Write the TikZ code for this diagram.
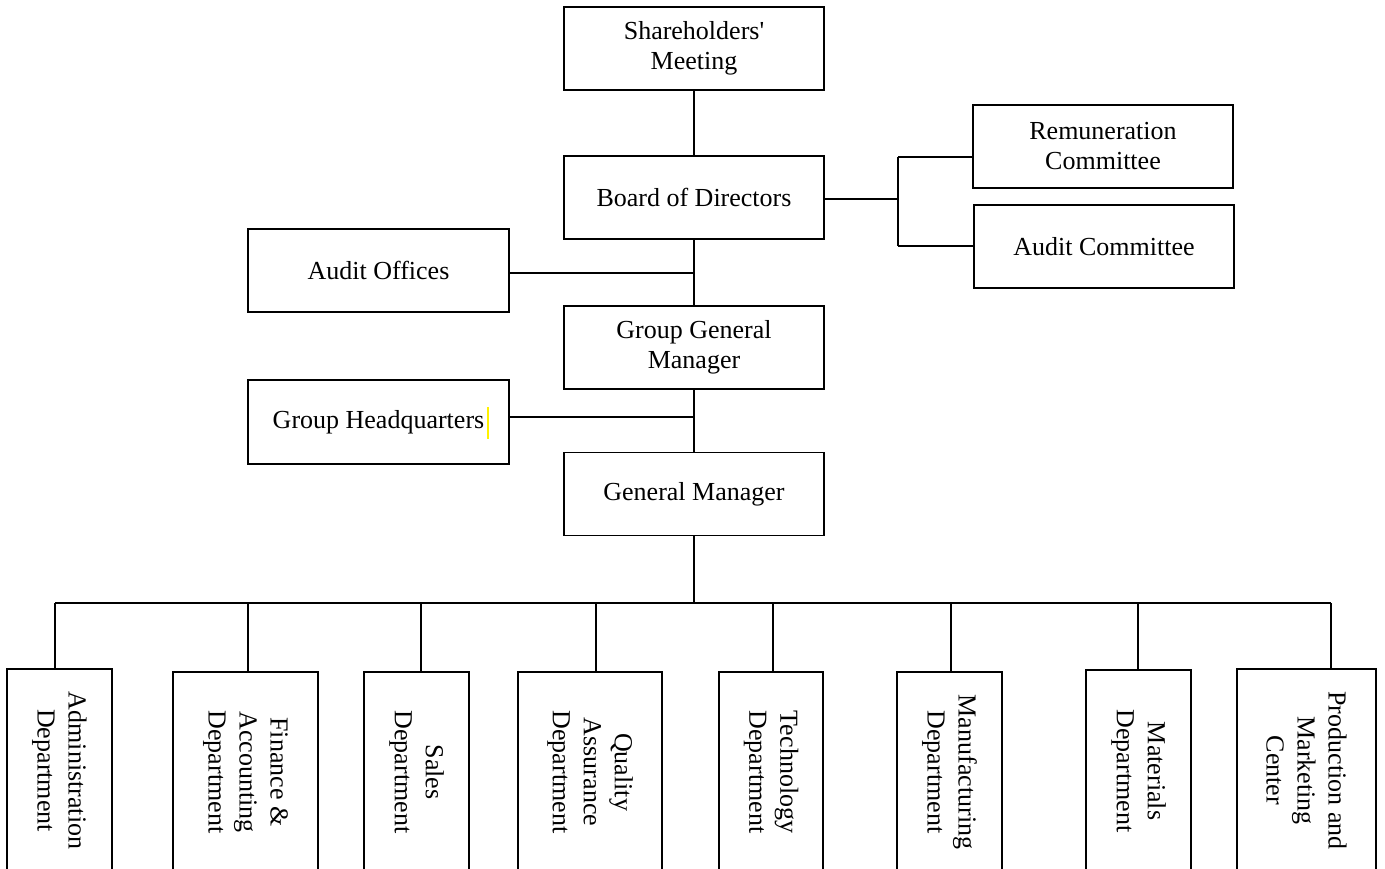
\documentclass[tikz,border=0pt]{standalone}
\usepackage{fontspec}
\setmainfont{Liberation Serif}
\begin{document}
\begin{tikzpicture}[x=1pt,y=-1pt,
  orgbox/.style={draw, line width=1.6pt, inner sep=0pt, align=center,
    font=\fontsize{26}{30}\selectfont, minimum width=260pt, minimum height=83pt},
  deptbox/.style={draw, line width=1.6pt, inner sep=0pt, align=center,
    font=\fontsize{26}{31}\selectfont, rotate=-90},
  link/.style={line width=1.8pt},
  thinlink/.style={line width=1.2pt}]
\useasboundingbox (0,0) rectangle (1385,868);
\clip (0,0) rectangle (1385,868);

% main chain
\node[orgbox] (sh)    at (694,48.5)  {Shareholders\textquotesingle\\Meeting};
\node[orgbox] (board) at (694,197.5) {Board of Directors};
\node[orgbox] (ggm)   at (694,347.5) {Group General\\Manager};
\node[orgbox] (gm)    at (694,494)   {General Manager};

% committees and side offices
\node[orgbox] (remun)  at (1103,146.5) {Remuneration\\Committee};
\node[orgbox] (auditc) at (1104,246.5) {Audit Committee};
\node[orgbox, minimum width=261pt] (auditoff) at (378.5,270.5) {Audit Offices};
\node[orgbox, minimum width=261pt, minimum height=84pt] (ghq) at (378.5,422) {Group Headquarters};
\draw[yellow, line width=1.5pt] (488,407) -- (488,439);

\draw[link] (sh.south) -- (board.north);
\draw[link] (board.south) -- (ggm.north);
\draw[link] (ggm.south) -- (gm.north);

\coordinate (split) at (898,199);
\coordinate (rtop) at (898,157);
\coordinate (rbot) at (898,246);
\draw[thinlink] (board.east |- split) -- (split);
\draw[thinlink] (rtop) -- (rbot);
\draw[thinlink] (rtop) -- (rtop -| remun.west);
\draw[thinlink] (rbot) -- (rbot -| auditc.west);

\coordinate (j1) at (694,273);
\coordinate (j2) at (694,417);
\draw[link] (auditoff.east |- j1) -- (j1);
\draw[link] (ghq.east |- j2) -- (j2);

% departments
\coordinate (bus) at (694,603);
\draw[link] (gm.south) -- (bus);
\draw[link] (55,603) -- (1331,603);

\node[deptbox, minimum width=203pt, minimum height=105pt] (adm)  at (59.5,770.5)  {Administration\\Department};
\node[deptbox, minimum width=200pt, minimum height=145pt] (fin)  at (245.5,772)   {Finance \&\\Accounting\\Department};
\node[deptbox, minimum width=200pt, minimum height=105pt] (sal)  at (416.5,772)   {Sales\\Department};
\node[deptbox, minimum width=200pt, minimum height=144pt] (qa)   at (590,772)     {Quality\\Assurance\\Department};
\node[deptbox, minimum width=200pt, minimum height=104pt] (tec)  at (771,772)     {Technology\\Department};
\node[deptbox, minimum width=200pt, minimum height=105pt] (man)  at (949.5,772)   {Manufacturing\\Department};
\node[deptbox, minimum width=202pt, minimum height=105pt] (mat)  at (1138.5,771)  {Materials\\Department};
\node[deptbox, minimum width=203pt, minimum height=139pt] (pmc)  at (1306.5,770.5) {Production and\\Marketing\\Center};

\foreach \n/\x in {adm/55, fin/248, sal/421, qa/596, tec/773, man/951, mat/1138, pmc/1331}{
  \coordinate (d\n) at (\x,603);
  \draw[link] (d\n) -- (d\n |- \n.west);
}
\end{tikzpicture}
\end{document}
